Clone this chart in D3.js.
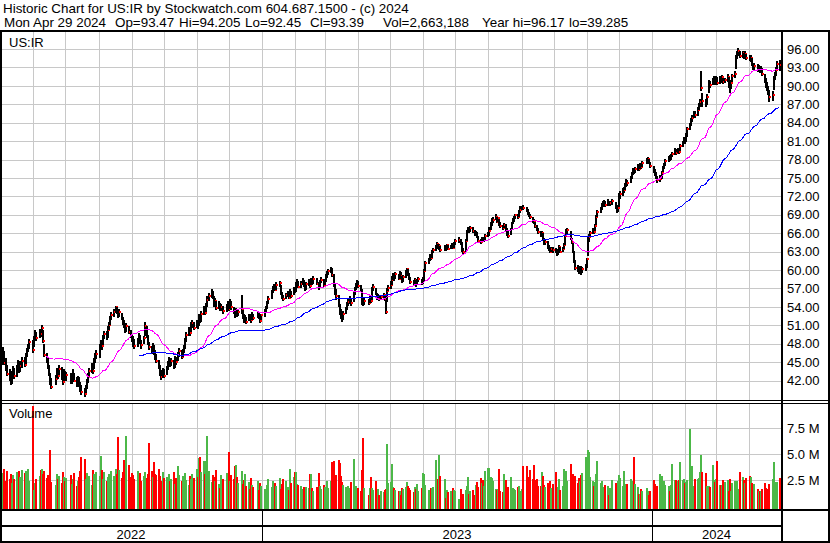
<!DOCTYPE html>
<html>
<head>
<meta charset="utf-8">
<script src="https://cdn.jsdelivr.net/npm/d3@7"></script>
<style>
  body { margin: 0; background: #fff; }
  svg { display: block; font-family: "Liberation Sans", Arial, sans-serif; }
  text { white-space: pre; }
</style>
</head>
<body>
<div id="chart"></div>
<script>
// DATA -----------------------------------------------------------------------------
const symbol = "US:IR";
const titleText = "Historic Chart for US:IR by Stockwatch.com 604.687.1500 - (c) 2024";
const quoteFields = ["Mon Apr 29 2024", "Op=93.47", "Hi=94.205", "Lo=92.45", "Cl=93.39", "Vol=2,663,188", "Year hi=96.17", "lo=39.285"];

// daily closes, May 2 2022 .. Apr 29 2024
const closes = [
  // 2022 May
  45.8, 46.3, 44.9, 44.2, 43.1, 42.6, 42.0, 42.8, 43.5, 42.7, 43.9, 44.6, 43.8, 44.3, 45.2, 44.6, 46.0, 46.8, 47.4, 48.2, 47.0,
  // Jun
  48.8, 49.5, 49.0, 50.1, 49.6, 50.5, 48.4, 46.1, 45.3, 44.2, 43.0, 41.6, 41.0, 42.3, 43.6, 42.8, 43.9, 42.5, 41.8, 43.2, 42.4,
  // Jul
  42.9, 41.8, 42.6, 43.1, 42.0, 41.4, 42.3, 41.2, 40.6, 40.1, 39.8, 40.9, 41.7, 42.8, 43.5, 44.2, 43.6, 45.0, 45.8, 46.3,
  // Aug
  47.2, 48.1, 47.6, 48.9, 49.6, 49.2, 50.3, 51.1, 52.0, 52.6, 53.2, 53.9, 53.4, 52.7, 53.1, 52.2, 51.6, 51.0, 50.2, 50.8, 49.9, 49.3, 48.6,
  // Sep
  48.3, 47.6, 48.4, 49.1, 48.2, 47.8, 48.9, 50.8, 49.3, 48.1, 47.5, 46.8, 47.6, 46.5, 46.0, 45.2, 44.1, 43.2, 42.6, 43.5, 42.8,
  // Oct
  43.9, 44.8, 45.3, 44.6, 45.1, 44.2, 45.6, 45.0, 46.1, 46.8, 45.9, 46.7, 47.3, 48.6, 49.4, 50.2, 49.8, 50.9, 51.3, 50.6, 51.4,
  // Nov
  51.0, 52.2, 51.7, 52.8, 53.5, 53.0, 54.2, 55.1, 55.8, 56.4, 55.6, 54.3, 54.9, 53.8, 54.5, 53.6, 54.0, 53.3, 53.9, 54.6, 53.7,
  // Dec
  54.8, 53.9, 53.1, 52.6, 53.4, 52.8, 53.2, 53.6, 52.4, 51.9, 52.2, 51.6, 52.5, 52.0, 51.8, 52.7, 52.1, 52.9, 52.3, 51.7, 52.6,
  // 2023 Jan
  53.1, 53.8, 54.6, 55.2, 56.4, 57.0, 57.3, 56.8, 57.6, 57.9, 56.2, 55.7, 55.3, 55.9, 56.1, 55.5, 56.4, 55.8, 56.9, 56.5,
  // Feb
  57.6, 58.0, 57.3, 57.8, 58.2, 57.5, 56.9, 57.7, 58.1, 57.4, 58.3, 57.9, 58.6, 57.8, 57.2, 58.0, 58.4, 57.6, 58.2,
  // Mar
  58.9, 59.4, 59.8, 60.1, 59.2, 57.6, 56.4, 55.8, 54.2, 53.1, 52.5, 52.0, 52.8, 53.6, 54.3, 54.8, 55.2, 54.6, 56.1, 56.9, 57.5, 58.0, 57.4,
  // Apr
  56.8, 55.1, 54.6, 55.0, 54.7, 55.3, 54.9, 56.8, 57.3, 56.1, 55.4, 55.8, 55.2, 55.6, 55.9, 55.3, 53.2, 56.6, 57.1,
  // May
  57.6, 58.4, 59.1, 58.7, 59.3, 58.6, 59.5, 59.0, 58.2, 58.8, 59.6, 60.1, 59.4, 58.6, 58.1, 57.8, 58.3, 57.7, 58.2, 58.5, 57.9, 58.3,
  // Jun
  59.8, 61.2, 61.7, 62.3, 62.0, 62.9, 63.3, 63.8, 64.2, 63.6, 63.9, 63.2, 63.7, 63.4, 64.0, 63.5, 63.8, 64.1, 63.6, 64.3, 64.7,
  // Jul
  64.9, 64.4, 63.2, 63.0, 64.8, 66.2, 66.6, 66.3, 66.9, 66.4, 65.9, 66.1, 65.4, 64.8, 64.6, 65.1, 64.7, 64.9, 65.5, 65.9,
  // Aug
  66.4, 67.3, 67.9, 68.2, 68.6, 67.9, 68.4, 67.5, 67.1, 66.8, 67.4, 66.6, 65.8, 65.6, 66.7, 67.6, 68.1, 68.5, 68.9, 68.6, 69.4, 69.8, 70.2,
  // Sep
  70.1, 69.6, 69.3, 69.0, 68.6, 68.0, 67.8, 67.1, 66.6, 66.2, 65.7, 66.0, 65.1, 64.3, 64.6, 63.8, 63.5, 63.0, 63.4, 63.2,
  // Oct
  63.1, 62.6, 63.3, 63.7, 63.0, 63.5, 64.1, 65.6, 66.3, 66.5, 65.1, 64.6, 63.0, 61.4, 60.3, 60.1, 59.9, 60.4, 59.8, 60.2, 60.5, 61.8,
  // Nov
  64.8, 65.3, 66.0, 66.5, 66.2, 67.1, 68.6, 69.4, 69.9, 70.4, 70.8, 71.0, 70.6, 71.1, 70.7, 70.9, 71.2, 70.3, 69.7, 70.1, 72.0,
  // Dec
  72.4, 72.9, 73.1, 73.8, 74.3, 74.1, 75.0, 75.6, 76.2, 75.9, 76.4, 76.8, 76.5, 77.0, 76.7, 77.4, 77.9, 78.1, 77.5, 76.9,
  // 2024 Jan
  76.3, 75.6, 75.1, 74.6, 74.9, 75.8, 76.6, 77.1, 77.8, 78.3, 78.1, 78.6, 78.9, 79.4, 79.1, 79.6, 79.3, 80.2, 80.7, 81.3, 81.0,
  // Feb
  81.8, 82.9, 83.6, 84.2, 84.8, 85.5, 85.2, 86.1, 86.8, 87.4, 89.6, 87.6, 87.0, 88.2, 90.6, 90.2, 90.9, 91.1, 90.7, 91.3,
  // Mar
  90.5, 91.2, 90.8, 91.4, 90.6, 90.9, 91.5, 89.9, 89.6, 90.5, 91.6, 92.0, 94.6, 95.1, 95.6, 94.9, 95.3, 94.8, 95.2, 94.6,
  // Apr
  94.3, 94.5, 93.6, 92.9, 93.2, 92.6, 93.0, 92.4, 92.8, 91.9, 90.8, 90.1, 89.6, 88.9, 88.1, 88.5, 91.2, 91.8, 92.6, 93.6, 93.39
];

const highs = [
  // 2022 May
  46.9, 47.5, 46.8, 45.6, 44.6, 43.9, 43.4, 43.6, 44.4, 44.1, 44.5, 45.3, 45.0, 45.1, 45.8, 45.9, 46.4, 47.3, 47.9, 48.8, 48.6,
  // Jun
  49.3, 50.2, 49.9, 50.4, 50.3, 51.1, 50.2, 48.0, 46.4, 45.6, 44.5, 43.2, 42.4, 42.9, 44.1, 43.9, 44.6, 44.2, 43.0, 43.8, 43.5,
  // Jul
  43.4, 43.2, 42.9, 43.8, 43.3, 42.5, 42.8, 42.6, 41.7, 41.2, 40.7, 41.3, 42.3, 43.2, 44.1, 44.8, 44.5, 45.6, 46.5, 46.9,
  // Aug
  47.9, 48.6, 48.5, 49.4, 50.1, 50.0, 50.8, 51.6, 52.5, 53.1, 53.7, 54.2, 54.0, 53.5, 53.6, 53.0, 52.4, 51.8, 51.3, 51.4, 50.9, 50.2, 49.6,
  // Sep
  49.2, 48.7, 48.9, 49.7, 49.4, 48.6, 49.3, 51.5, 50.9, 49.4, 48.3, 47.7, 48.1, 47.8, 46.9, 46.3, 45.4, 44.5, 43.7, 44.0, 43.9,
  // Oct
  44.3, 45.2, 45.9, 45.5, 45.6, 45.3, 46.0, 45.9, 46.6, 47.3, 47.0, 47.1, 47.8, 49.0, 49.9, 50.7, 50.6, 51.5, 51.8, 51.5, 51.9,
  // Nov
  51.9, 52.8, 52.6, 53.3, 54.1, 53.9, 54.6, 55.7, 56.3, 56.9, 56.5, 55.7, 55.4, 55.0, 54.9, 54.6, 54.5, 54.2, 54.4, 55.0, 54.8,
  // Dec
  55.3, 55.0, 54.0, 53.4, 53.8, 53.5, 53.6, 56.0, 53.5, 52.8, 52.7, 52.4, 52.9, 52.8, 52.4, 53.1, 52.8, 53.3, 53.0, 52.5, 52.9,
  // 2023 Jan
  53.6, 54.1, 55.0, 55.7, 56.8, 57.4, 57.8, 57.5, 58.0, 58.2, 57.6, 56.4, 56.0, 56.3, 56.6, 56.2, 56.9, 56.6, 57.3, 57.2,
  // Feb
  58.1, 58.6, 58.2, 58.2, 58.7, 58.3, 57.7, 58.1, 58.5, 58.2, 58.7, 58.5, 59.0, 58.7, 58.0, 58.4, 58.9, 58.5, 58.6,
  // Mar
  59.3, 59.8, 60.2, 60.5, 60.3, 59.4, 57.9, 56.9, 56.0, 54.5, 53.6, 52.9, 53.3, 54.0, 54.8, 55.3, 55.7, 55.5, 56.5, 57.3, 57.9, 58.4, 58.2,
  // Apr
  57.6, 56.9, 55.5, 55.4, 55.2, 55.7, 55.5, 57.2, 57.7, 57.0, 56.2, 56.1, 55.9, 55.9, 56.3, 55.9, 55.1, 57.0, 57.5,
  // May
  58.2, 59.0, 59.5, 59.3, 59.7, 59.4, 59.9, 59.6, 59.1, 59.2, 60.0, 60.4, 60.2, 59.5, 58.8, 58.4, 58.7, 58.4, 58.6, 58.9, 58.6, 58.8,
  // Jun
  60.1, 61.5, 62.0, 62.6, 62.6, 63.2, 63.6, 64.1, 64.6, 64.3, 64.2, 63.9, 64.0, 63.9, 64.3, 64.1, 64.0, 64.4, 64.2, 64.5, 65.0,
  // Jul
  65.3, 65.0, 64.5, 63.6, 65.1, 66.5, 67.0, 66.8, 67.2, 67.0, 66.5, 66.4, 66.2, 65.5, 65.1, 65.4, 65.2, 65.3, 65.8, 66.2,
  // Aug
  67.0, 67.8, 68.4, 68.6, 69.1, 68.7, 68.7, 68.3, 67.8, 67.4, 67.7, 67.5, 66.8, 66.3, 66.9, 67.8, 68.4, 68.8, 69.2, 69.1, 69.7, 70.4, 70.5,
  // Sep
  70.6, 70.3, 69.9, 69.5, 69.2, 68.7, 68.3, 67.9, 67.3, 66.9, 66.4, 66.4, 66.0, 65.2, 64.9, 64.7, 64.0, 63.8, 63.8, 63.7,
  // Oct
  63.6, 63.3, 63.5, 64.0, 63.8, 63.8, 64.4, 65.9, 66.6, 66.9, 66.3, 65.2, 64.4, 63.1, 61.6, 60.8, 60.5, 60.7, 60.6, 60.5, 60.9, 62.0,
  // Nov
  65.3, 65.9, 66.4, 66.9, 66.7, 67.5, 68.9, 69.8, 70.3, 70.9, 71.2, 71.4, 71.2, 71.5, 71.3, 71.2, 71.6, 71.1, 70.5, 70.6, 72.5,
  // Dec
  72.9, 73.3, 73.6, 74.2, 74.8, 74.7, 75.3, 76.0, 76.6, 76.5, 76.8, 77.3, 77.0, 77.4, 77.3, 77.7, 78.2, 78.4, 78.1, 77.6,
  // 2024 Jan
  76.9, 76.5, 75.9, 75.3, 75.4, 76.1, 76.9, 77.5, 78.1, 78.6, 78.8, 78.9, 79.3, 79.8, 79.7, 79.9, 79.8, 80.5, 81.0, 81.7, 81.6,
  // Feb
  82.3, 83.3, 84.0, 84.7, 85.2, 85.9, 85.9, 86.5, 87.2, 87.8, 92.4, 88.9, 87.9, 88.6, 91.0, 90.8, 91.3, 91.6, 91.2, 91.6,
  // Mar
  91.4, 91.6, 91.5, 91.8, 91.3, 91.3, 91.9, 91.4, 90.5, 90.9, 91.9, 92.4, 95.0, 95.6, 96.17, 95.7, 95.7, 95.4, 95.6, 95.2,
  // Apr
  95.0, 95.1, 94.6, 93.8, 93.7, 93.5, 93.4, 93.3, 93.2, 92.9, 92.0, 91.2, 90.6, 89.9, 89.3, 89.2, 91.6, 92.3, 93.1, 94.0, 94.205
];

const lows = [
  // 2022 May
  44.6, 45.2, 44.5, 43.6, 42.8, 41.9, 41.2, 41.5, 42.3, 42.2, 42.6, 43.6, 43.2, 43.4, 44.1, 44.2, 44.7, 45.8, 46.6, 47.1, 46.5,
  // Jun
  47.4, 48.6, 48.5, 49.0, 49.1, 49.7, 48.1, 45.9, 44.8, 43.8, 42.7, 41.3, 40.6, 41.2, 42.4, 42.3, 42.9, 42.1, 41.3, 41.9, 42.0,
  // Jul
  41.9, 41.4, 41.5, 42.2, 41.7, 40.9, 41.2, 40.9, 40.2, 39.7, 39.285, 39.9, 40.6, 41.6, 42.7, 43.3, 43.1, 43.8, 44.9, 45.5,
  // Aug
  45.6, 46.9, 47.0, 47.8, 48.7, 48.6, 49.0, 50.2, 51.0, 51.8, 52.3, 53.0, 52.8, 52.1, 52.3, 51.9, 51.1, 50.6, 49.8, 49.9, 49.5, 48.9, 48.2,
  // Sep
  47.5, 47.2, 47.4, 48.2, 47.9, 47.1, 47.9, 49.3, 49.0, 47.8, 46.9, 46.3, 46.7, 46.2, 45.4, 44.9, 43.8, 42.8, 42.1, 42.4, 42.4,
  // Oct
  42.9, 43.7, 44.5, 44.2, 44.3, 43.8, 44.1, 44.6, 45.1, 45.8, 45.5, 45.8, 46.5, 47.2, 48.3, 49.3, 49.2, 49.9, 50.5, 50.2, 50.5,
  // Nov
  50.4, 50.9, 51.3, 51.6, 52.6, 52.7, 53.1, 54.0, 54.9, 55.5, 55.2, 54.0, 54.1, 53.5, 53.6, 53.3, 53.4, 52.9, 53.1, 53.7, 53.4,
  // Dec
  53.6, 53.5, 52.8, 52.1, 52.4, 52.3, 52.5, 52.8, 52.0, 51.4, 51.6, 51.2, 51.7, 51.7, 51.3, 51.9, 51.8, 52.2, 52.0, 51.4, 51.8,
  // 2023 Jan
  52.4, 53.0, 53.7, 54.5, 55.3, 56.3, 56.7, 56.5, 56.8, 57.2, 56.0, 55.3, 54.9, 55.2, 55.6, 55.2, 55.6, 55.5, 55.9, 56.2,
  // Feb
  56.4, 57.3, 57.0, 57.1, 57.5, 57.2, 56.5, 56.8, 57.4, 57.1, 57.5, 57.5, 57.8, 57.5, 56.8, 57.2, 57.9, 57.3, 57.5,
  // Mar
  58.0, 58.7, 59.2, 59.5, 58.9, 57.3, 56.0, 55.1, 53.9, 52.6, 52.0, 51.6, 51.9, 52.8, 53.5, 54.1, 54.5, 54.1, 54.8, 56.0, 56.7, 57.3, 57.0,
  // Apr
  56.5, 54.3, 54.1, 54.3, 54.3, 54.6, 54.6, 55.1, 56.6, 56.0, 55.1, 55.2, 55.0, 55.1, 55.4, 55.0, 52.9, 54.8, 56.5,
  // May
  56.9, 57.5, 58.3, 58.2, 58.6, 58.3, 58.6, 58.8, 57.9, 58.1, 58.7, 59.4, 59.1, 58.4, 57.7, 57.4, 57.6, 57.3, 57.6, 58.0, 57.6, 57.8,
  // Jun
  58.2, 59.9, 61.0, 61.5, 61.7, 62.0, 62.7, 63.1, 63.6, 63.4, 63.3, 63.0, 63.1, 63.1, 63.3, 63.3, 63.4, 63.6, 63.4, 63.6, 64.1,
  // Jul
  64.4, 64.1, 63.0, 62.6, 62.9, 64.7, 66.0, 66.0, 66.2, 66.1, 65.6, 65.6, 65.2, 64.5, 64.3, 64.5, 64.5, 64.5, 64.8, 65.4,
  // Aug
  65.6, 66.5, 67.2, 67.6, 68.1, 67.6, 67.8, 67.2, 66.9, 66.5, 66.8, 66.3, 65.5, 65.2, 65.7, 66.6, 67.5, 67.9, 68.3, 68.3, 68.6, 69.3, 69.7,
  // Sep
  69.7, 69.4, 69.0, 68.6, 68.3, 67.7, 67.5, 66.9, 66.3, 65.9, 65.3, 65.4, 64.9, 64.1, 64.1, 63.5, 63.1, 62.7, 62.9, 62.8,
  // Oct
  62.7, 62.3, 62.5, 63.1, 62.8, 62.9, 63.4, 64.0, 65.5, 65.9, 64.9, 64.3, 62.8, 61.1, 60.0, 59.6, 59.4, 59.6, 59.2, 59.5, 59.8, 60.4,
  // Nov
  62.2, 64.6, 65.3, 65.9, 65.8, 66.3, 67.4, 68.6, 69.3, 69.8, 70.2, 70.5, 70.3, 70.5, 70.4, 70.5, 70.6, 70.0, 69.3, 69.4, 70.3,
  // Dec
  71.6, 72.1, 72.5, 73.0, 73.6, 73.7, 74.2, 74.8, 75.5, 75.6, 75.8, 76.2, 76.2, 76.4, 76.4, 76.8, 77.2, 77.6, 77.3, 76.6,
  // 2024 Jan
  75.8, 75.3, 74.8, 74.2, 74.3, 74.9, 75.9, 76.5, 77.0, 77.6, 77.8, 78.0, 78.4, 78.8, 78.8, 79.0, 78.9, 79.4, 80.0, 80.6, 80.5,
  // Feb
  80.9, 81.7, 82.8, 83.4, 84.1, 84.8, 84.7, 85.1, 86.0, 86.6, 89.2, 86.6, 86.5, 86.9, 88.9, 89.7, 90.1, 90.5, 90.2, 90.5,
  // Mar
  90.1, 90.3, 90.4, 90.7, 90.3, 90.4, 90.6, 89.6, 88.9, 89.5, 90.6, 91.3, 92.8, 94.4, 94.8, 94.5, 94.6, 94.3, 94.6, 94.2,
  // Apr
  94.0, 93.9, 93.3, 92.6, 92.6, 92.3, 92.4, 92.1, 92.2, 91.6, 90.4, 89.7, 89.1, 88.5, 87.3, 87.6, 89.4, 91.0, 91.6, 92.7, 92.45
];

// daily volume in millions of shares
const volumes = [
  // 2022 May
  2.9, 3.2, 3.6, 2.4, 3.4, 2.6, 3.1, 2.2, 3.0, 2.6, 3.3, 2.0, 3.4, 2.8, 3.5, 3.2, 3.4, 2.7, 3.6, 2.4, 9.6,
  // Jun
  1.5, 2.2, 2.6, 2.9, 3.5, 3.6, 3.1, 3.4, 2.7, 3.0, 2.4, 5.4, 2.3, 2.0, 3.1, 2.6, 2.9, 2.2, 3.3, 2.8, 2.4,
  // Jul
  2.7, 3.0, 2.1, 2.6, 3.2, 1.9, 2.4, 2.8, 3.4, 4.7, 4.5, 2.6, 3.2, 2.3, 2.9, 2.0, 3.5, 3.1, 2.6, 3.3,
  // Aug
  2.9, 4.8, 3.5, 2.6, 3.3, 2.4, 2.8, 3.1, 2.5, 3.4, 2.9, 3.6, 3.1, 6.6, 3.5, 2.7, 3.3, 4.4, 3.8, 6.7, 3.9, 2.8, 3.2,
  // Sep
  3.0, 2.6, 3.4, 2.5, 3.2, 2.4, 2.9, 3.3, 2.7, 3.1, 6.1, 3.4, 2.8, 4.2, 3.1, 3.0, 3.6, 2.9, 2.4, 3.3, 2.7,
  // Oct
  2.8, 2.2, 3.1, 2.4, 2.6, 3.3, 2.1, 2.7, 3.8, 3.0, 2.4, 2.9, 2.2, 3.2, 2.5, 2.0, 2.9, 2.6, 3.1, 2.7, 3.6,
  // Nov
  2.8, 4.6, 4.7, 3.3, 4.3, 3.1, 4.3, 6.7, 3.4, 2.3, 3.0, 2.8, 2.4, 3.5, 2.1, 1.7, 3.0, 2.6, 3.2, 2.7, 5.2,
  // Dec
  2.4, 3.0, 2.6, 3.8, 3.9, 2.8, 2.2, 3.4, 2.1, 2.5, 3.1, 1.9, 2.3, 1.6, 2.7, 2.0, 1.8, 2.4, 1.5, 2.2, 1.9,
  // 2023 Jan
  1.6, 1.3, 2.0, 2.6, 1.8, 2.4, 1.7, 2.2, 1.9, 2.7, 1.6, 2.1, 2.6, 2.4, 1.8, 1.5, 3.6, 2.2, 2.8, 3.3,
  // Feb
  3.3, 2.1, 2.0, 1.9, 1.6, 1.8, 1.5, 1.8, 1.7, 3.1, 3.1, 1.7, 1.4, 1.8, 3.2, 1.9, 1.6, 2.0, 1.8,
  // Mar
  1.8, 2.4, 1.7, 2.4, 4.2, 4.3, 2.9, 3.0, 4.4, 4.1, 2.9, 2.3, 2.0, 1.8, 1.6, 1.9, 1.7, 2.3, 4.5, 1.8, 1.9, 1.6, 1.7,
  // Apr
  1.4, 3.5, 6.5, 1.7, 1.1, 1.7, 2.8, 1.7, 1.5, 2.4, 1.2, 1.6, 1.1, 1.4, 1.3, 1.5, 1.6, 6.0, 2.2,
  // May
  2.3, 4.0, 1.8, 1.7, 1.5, 1.4, 1.4, 1.1, 1.7, 1.6, 1.8, 2.3, 1.9, 1.7, 1.5, 1.3, 1.8, 1.6, 2.1, 1.4, 1.7, 3.2,
  // Jun
  3.1, 2.0, 1.5, 1.4, 1.7, 1.7, 1.8, 4.4, 2.3, 2.6, 4.9, 2.9, 2.6, 0.8, 1.5, 1.3, 1.4, 1.2, 1.7, 1.5, 1.4,
  // Jul
  0.7, 1.6, 1.1, 1.2, 1.5, 1.9, 2.8, 1.2, 1.4, 1.5, 1.1, 2.0, 2.3, 1.8, 2.7, 2.2, 2.5, 1.9, 3.4, 3.7,
  // Aug
  3.7, 2.8, 2.7, 2.4, 1.6, 1.5, 1.6, 3.6, 1.4, 1.3, 3.1, 2.5, 1.8, 1.8, 2.8, 1.5, 1.7, 1.6, 1.5, 1.8, 1.9, 1.4, 1.6,
  // Sep
  3.8, 3.8, 2.3, 2.8, 3.5, 2.6, 3.9, 2.5, 2.6, 1.9, 1.9, 3.3, 2.9, 2.0, 1.8, 2.2, 1.9, 2.4, 1.7, 2.1,
  // Oct
  3.3, 1.7, 1.8, 2.6, 1.5, 1.9, 3.6, 3.3, 3.4, 2.4, 4.0, 2.8, 3.1, 2.5, 2.9, 2.2, 2.7, 2.4, 3.0, 3.2, 4.7, 3.6,
  // Nov
  5.4, 5.2, 2.8, 2.4, 1.9, 2.3, 3.1, 4.3, 2.2, 2.4, 1.8, 1.5, 2.0, 1.9, 1.1, 1.7, 2.5, 2.2, 1.9, 2.4, 3.0,
  // Dec
  2.7, 1.9, 3.4, 2.1, 1.6, 2.1, 2.6, 1.9, 2.4, 4.7, 2.1, 1.8, 1.2, 1.2, 1.6, 1.4, 1.7, 1.4, 1.1, 1.4,
  // 2024 Jan
  2.5, 2.1, 1.8, 1.9, 3.1, 2.9, 1.5, 2.4, 2.0, 1.9, 1.4, 2.0, 4.0, 2.5, 2.5, 2.4, 2.5, 4.2, 2.5, 2.6, 2.2,
  // Feb
  2.3, 2.5, 7.4, 2.6, 3.8, 1.9, 2.6, 2.6, 2.7, 3.3, 4.9, 3.3, 3.2, 1.9, 1.9, 1.8, 3.9, 2.5, 2.3, 2.6,
  // Mar
  4.3, 2.0, 2.0, 2.0, 2.5, 2.3, 2.5, 1.4, 2.6, 1.4, 2.2, 2.4, 2.4, 2.4, 1.6, 3.3, 2.8, 2.5, 2.2, 2.7,
  // Apr
  2.9, 2.8, 2.2, 1.9, 2.1, 1.6, 1.4, 1.4, 1.4, 1.6, 2.2, 1.7, 1.6, 1.5, 2.1, 2.6, 4.2, 2.3, 1.8, 2.3, 2.66
];

const priceTicks = [42, 45, 48, 51, 54, 57, 60, 63, 66, 69, 72, 75, 78, 81, 84, 87, 90, 93, 96];
const volumeTicks = [2.5, 5, 7.5];
const maPeriods = [30, 90];
const holidays = ["2022-05-30", "2022-06-20", "2022-07-04", "2022-09-05", "2022-11-24", "2022-12-26",
  "2023-01-02", "2023-01-16", "2023-02-20", "2023-04-07", "2023-05-29", "2023-06-19", "2023-07-04",
  "2023-09-04", "2023-11-23", "2023-12-25", "2024-01-01", "2024-01-15", "2024-02-19", "2024-03-29"];
const lastTradeDay = "2024-04-29";
// DATA -----------------------------------------------------------------------------

class HistoricChart {
  constructor(div) {
    this.elements = { scales: {} };
    this.settings = {
      container: div,
      width: 830,
      height: 543,
      plot: { left: 2, right: 781, priceTop: 32, priceBottom: 400, volTop: 404, volBottom: 509 },
      colors: { grid: "#c8c8c8", up: "#4cb848", down: "#ff0000", flat: "#a0a0a0", ma: ["#ff00ff", "#0000ff"] },
    };
  }

  render() {
    this.buildDates();
    this.createSvg();
    this.createScales();
    this.drawGrid();
    this.drawVolume();
    this.drawBars();
    this.drawAverages();
    this.drawFrame();
    this.drawText();
  }

  // trading days, counted back from the last quote
  buildDates() {
    const dates = [];
    let d = new Date(lastTradeDay + "T00:00:00Z");
    while (dates.length < closes.length) {
      const wd = d.getUTCDay();
      const key = d.toISOString().slice(0, 10);
      if (wd !== 0 && wd !== 6 && !holidays.includes(key)) dates.unshift(d);
      d = d3.utcDay.offset(d, -1);
    }
    this.dates = dates;
  }

  createSvg() {
    const { container, width, height, plot } = this.settings;
    this.elements.svg = d3.select(container).append("svg")
      .attr("width", width)
      .attr("height", height);

    const defs = this.elements.svg.append("defs");
    defs.append("clipPath").attr("id", "clip-price").append("rect")
      .attr("x", plot.left).attr("y", plot.priceTop)
      .attr("width", plot.right - plot.left).attr("height", plot.priceBottom - plot.priceTop);
    defs.append("clipPath").attr("id", "clip-vol").append("rect")
      .attr("x", plot.left).attr("y", plot.volTop)
      .attr("width", plot.right - plot.left).attr("height", plot.volBottom - plot.volTop);
  }

  createScales() {
    this.elements.scales.x = d3.scaleUtc()
      .domain([new Date("2022-04-29T00:00:00Z"), new Date("2024-04-29T00:00:00Z")])
      .range([-1.9, 779.1]);
    this.elements.scales.y = d3.scaleLinear().domain([42, 96]).range([380.5, 49]);
    this.elements.scales.v = d3.scaleLinear().domain([0, 7.5]).range([506, 428]);
  }

  drawGrid() {
    const { svg, scales: { x, y, v } } = this.elements;
    const { plot, colors } = this.settings;
    const g = svg.append("g").attr("stroke", colors.grid).attr("shape-rendering", "crispEdges");
    const months = d3.utcMonth.range(x.domain()[0], x.domain()[1]);

    g.selectAll(".hp").data(priceTicks).join("line")
      .attr("x1", plot.left).attr("x2", plot.right)
      .attr("y1", d => Math.round(y(d)) + 0.5).attr("y2", d => Math.round(y(d)) + 0.5);
    g.selectAll(".hv").data(volumeTicks).join("line")
      .attr("x1", plot.left).attr("x2", plot.right)
      .attr("y1", d => Math.round(v(d)) + 0.5).attr("y2", d => Math.round(v(d)) + 0.5);

    [[plot.priceTop, plot.priceBottom], [plot.volTop, plot.volBottom]].forEach(([t, b]) => {
      g.append("g").selectAll("line").data(months.filter(m => x(m) > plot.left)).join("line")
        .attr("x1", d => Math.round(x(d)) + 0.5).attr("x2", d => Math.round(x(d)) + 0.5)
        .attr("y1", t).attr("y2", b);
    });
  }

  drawVolume() {
    const { svg, scales: { x, v } } = this.elements;
    const { colors } = this.settings;
    const fill = (d, i) => {
      if (i === 0 || closes[i] === closes[i - 1]) return colors.flat;
      return closes[i] > closes[i - 1] ? colors.up : colors.down;
    };

    svg.append("g").attr("clip-path", "url(#clip-vol)").attr("shape-rendering", "crispEdges")
      .selectAll("rect").data(volumes).join("rect")
      .attr("x", (d, i) => Math.round(x(this.dates[i])))
      .attr("width", 2)
      .attr("y", d => Math.round(v(d)))
      .attr("height", d => 508.5 - Math.round(v(d)))
      .attr("fill", fill);
  }

  // high-low bar in black, close marked in red; bars drawn in order so the next one overlaps
  drawBars() {
    const { svg, scales: { x, y } } = this.elements;
    const bars = svg.append("g").attr("clip-path", "url(#clip-price)").attr("shape-rendering", "crispEdges")
      .selectAll("g").data(closes).join("g");

    bars.append("rect")
      .attr("x", (d, i) => Math.round(x(this.dates[i])))
      .attr("width", 2)
      .attr("y", (d, i) => Math.round(y(highs[i])))
      .attr("height", (d, i) => Math.max(1, Math.round(y(lows[i])) - Math.round(y(highs[i]))))
      .attr("fill", "#000");

    bars.append("rect")
      .attr("x", (d, i) => Math.round(x(this.dates[i])) + 1)
      .attr("width", 2)
      .attr("y", d => Math.round(y(d)) - 1)
      .attr("height", 2)
      .attr("fill", "#ff0000");
  }

  drawAverages() {
    const { svg, scales: { x, y } } = this.elements;
    const { colors } = this.settings;
    const g = svg.append("g").attr("clip-path", "url(#clip-price)").attr("fill", "none")
      .attr("shape-rendering", "crispEdges");

    maPeriods.forEach((n, k) => {
      const pts = [];
      for (let i = n - 1; i < closes.length; i++) {
        pts.push([this.dates[i], d3.mean(closes.slice(i - n + 1, i + 1))]);
      }
      const line = d3.line().x(d => x(d[0])).y(d => y(d[1]));
      g.append("path").attr("d", line(pts)).attr("stroke", colors.ma[k]).attr("stroke-width", 1);
    });
  }

  drawFrame() {
    const { svg, scales: { x } } = this.elements;
    const { width, height } = this.settings;
    const g = svg.append("g").attr("stroke", "#000").attr("shape-rendering", "crispEdges");
    const hl = (y, w, x2 = width) => g.append("line").attr("x1", 0).attr("x2", x2).attr("y1", y).attr("y2", y).attr("stroke-width", w);
    const vl = (xx, y1, y2, w) => g.append("line").attr("x1", xx).attr("x2", xx).attr("y1", y1).attr("y2", y2).attr("stroke-width", w);

    hl(31, 2);
    hl(400.5, 1);
    hl(403.5, 1);
    hl(510, 2);
    hl(526, 2, 782);
    hl(541.5, 2);
    vl(1, 30, height, 2);
    vl(829, 30, height, 2);
    vl(782, 30, height - 1, 2);

    // year separators in the date rows
    d3.utcYear.range(x.domain()[0], x.domain()[1]).forEach(d => {
      vl(Math.round(x(d)) + 0.5, 510, 541, 1.5);
    });
  }

  drawText() {
    const { svg, scales: { x, y, v } } = this.elements;
    const g = svg.append("g").attr("font-size", 13).attr("fill", "#000");
    const quoteX = [4, 115, 179, 245, 310, 383, 482, 569];

    g.append("text").attr("x", 3).attr("y", 13).attr("font-size", 13.4).text(titleText);
    g.selectAll(".q").data(quoteFields).join("text")
      .attr("x", (d, i) => quoteX[i]).attr("y", 27).attr("font-size", 13.4).text(d => d);

    g.append("text").attr("x", 9).attr("y", 46.5).text(symbol);
    g.append("text").attr("x", 9).attr("y", 418).text("Volume");

    g.selectAll(".pl").data(priceTicks).join("text")
      .attr("x", 787).attr("y", d => y(d) + 4.7)
      .text(d => d3.format(".2f")(d));
    g.selectAll(".vl").data(volumeTicks).join("text")
      .attr("x", 787).attr("y", d => v(d) + 4.7)
      .text(d => d3.format(".1f")(d) + " M");

    // year labels centred in their span of the date row
    const [d0, d1] = x.domain();
    const years = [d0, ...d3.utcYear.range(d0, d1)];
    g.selectAll(".yr").data(years).join("text")
      .attr("text-anchor", "middle")
      .attr("x", (d, i) => {
        const a = Math.max(0, x(d));
        const b = i < years.length - 1 ? x(years[i + 1]) : 781;
        return (a + b) / 2;
      })
      .attr("y", 539)
      .text(d => d3.utcFormat("%Y")(d3.utcDay.offset(d, 3)));
  }
}

const chart = new HistoricChart(document.getElementById("chart"));
chart.render();
</script>
</body>
</html>
